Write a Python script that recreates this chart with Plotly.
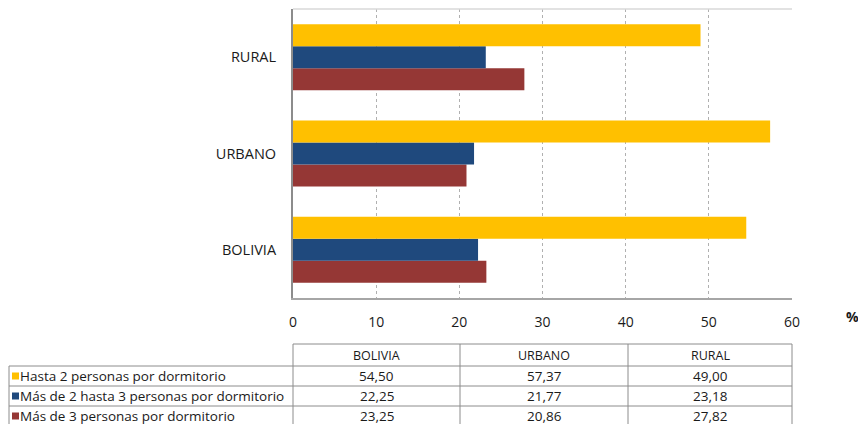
import plotly.graph_objects as go

categories = ["BOLIVIA", "URBANO", "RURAL"]
series_names = ["Hasta 2 personas por dormitorio",
                "Más de 2 hasta 3 personas por dormitorio",
                "Más de 3 personas por dormitorio"]
hasta2 = [54.50, 57.37, 49.00]
mas2hasta3 = [22.25, 21.77, 23.18]
mas3 = [23.25, 20.86, 27.82]
colors = ["#FFC000", "#1F497D", "#953735"]
x_ticks = [0, 10, 20, 30, 40, 50, 60]

series_values = [hasta2, mas2hasta3, mas3]

W, H = 858, 424
L, R, T, B = 293, 792, 9, 298
FONT = "Open Sans, Lato, sans-serif"

fig = go.Figure()
# plotly stacks grouped horizontal bars bottom-up: add in reverse so yellow is on top
for name, vals, col in reversed(list(zip(series_names, series_values, colors))):
    fig.add_trace(go.Bar(y=categories, x=vals, name=name, orientation="h",
                         marker=dict(color=col, line=dict(width=0))))

def px(x):
    return (x - L) / (R - L)

def py(y):
    return (B - y) / (B - T)

shapes = []
annotations = []
# top border of plot
shapes.append(dict(type="line", xref="paper", yref="paper", x0=0, x1=1, y0=1, y1=1,
                   line=dict(color="#D9D9D9", width=1.5)))

# table
border = "#8C8C8C"
col_x = [293, 460, 628, 792]
left_x = 9
row_y = [344, 366, 386, 406, 426]
shapes.append(dict(type="line", xref="paper", yref="paper", x0=px(col_x[0]), x1=px(col_x[-1]),
                   y0=py(row_y[0]), y1=py(row_y[0]), line=dict(color=border, width=1)))
for yv in row_y[1:]:
    shapes.append(dict(type="line", xref="paper", yref="paper", x0=px(left_x), x1=px(col_x[-1]),
                       y0=py(yv), y1=py(yv), line=dict(color=border, width=1)))
for xv in col_x:
    shapes.append(dict(type="line", xref="paper", yref="paper", x0=px(xv), x1=px(xv),
                       y0=py(row_y[0]), y1=py(row_y[-1]), line=dict(color=border, width=1)))
shapes.append(dict(type="line", xref="paper", yref="paper", x0=px(left_x), x1=px(left_x),
                   y0=py(row_y[1]), y1=py(row_y[-1]), line=dict(color=border, width=1)))

font_hdr = dict(family=FONT, size=12.5, color="#1a1a1a")
font_tbl = dict(family=FONT, size=13.5, color="#1a1a1a")
for j, cat in enumerate(categories):
    cx = (col_x[j] + col_x[j + 1]) / 2
    annotations.append(dict(xref="paper", yref="paper", x=px(cx), y=py((row_y[0] + row_y[1]) / 2),
                            text=cat, showarrow=False, font=font_hdr, xanchor="center", yanchor="middle"))
for i, (name, vals, col) in enumerate(zip(series_names, series_values, colors)):
    yc = (row_y[i + 1] + row_y[i + 2]) / 2
    shapes.append(dict(type="rect", xref="paper", yref="paper", x0=px(12), x1=px(19),
                       y0=py(yc + 3.5), y1=py(yc - 3.5), fillcolor=col, line=dict(width=0)))
    annotations.append(dict(xref="paper", yref="paper", x=px(18), y=py(yc), text=name,
                            showarrow=False, font=font_tbl, xanchor="left", yanchor="middle"))
    for j, v in enumerate(vals):
        cx = (col_x[j] + col_x[j + 1]) / 2
        annotations.append(dict(xref="paper", yref="paper", x=px(cx), y=py(yc),
                                text=f"{v:.2f}".replace(".", ","), showarrow=False, font=font_tbl,
                                xanchor="center", yanchor="middle"))

annotations.append(dict(xref="paper", yref="paper", x=px(852), y=py(316), text="<b>%</b>",
                        showarrow=False, font=dict(family=FONT, size=14, color="#1a1a1a"),
                        xanchor="center", yanchor="middle"))

fig.update_layout(
    width=W, height=H,
    margin=dict(l=L, r=W - R, t=T, b=H - B, pad=0),
    paper_bgcolor="white", plot_bgcolor="white",
    barmode="group", bargap=0.315, bargroupgap=0,
    showlegend=False,
    shapes=shapes, annotations=annotations,
    font=dict(family=FONT, size=13, color="#1a1a1a"),
    xaxis=dict(range=[0, 60], tickvals=x_ticks, ticktext=[str(t) for t in x_ticks],
               showgrid=True, gridcolor="#B0B0B0", griddash="dot", gridwidth=1,
               showline=True, linecolor="#A6A6A6", linewidth=1.5, zeroline=False,
               ticks="", ticklabelstandoff=10, tickfont=dict(size=14)),
    yaxis=dict(categoryorder="array", categoryarray=categories,
               showgrid=False, showline=True, linecolor="#8C8C8C", linewidth=2,
               ticks="", ticklabelstandoff=12, tickfont=dict(size=14.5)),
)

fig.write_html("out.html", config={"displayModeBar": False},
               post_script="document.body.style.margin='0';document.body.style.overflow='hidden';")
